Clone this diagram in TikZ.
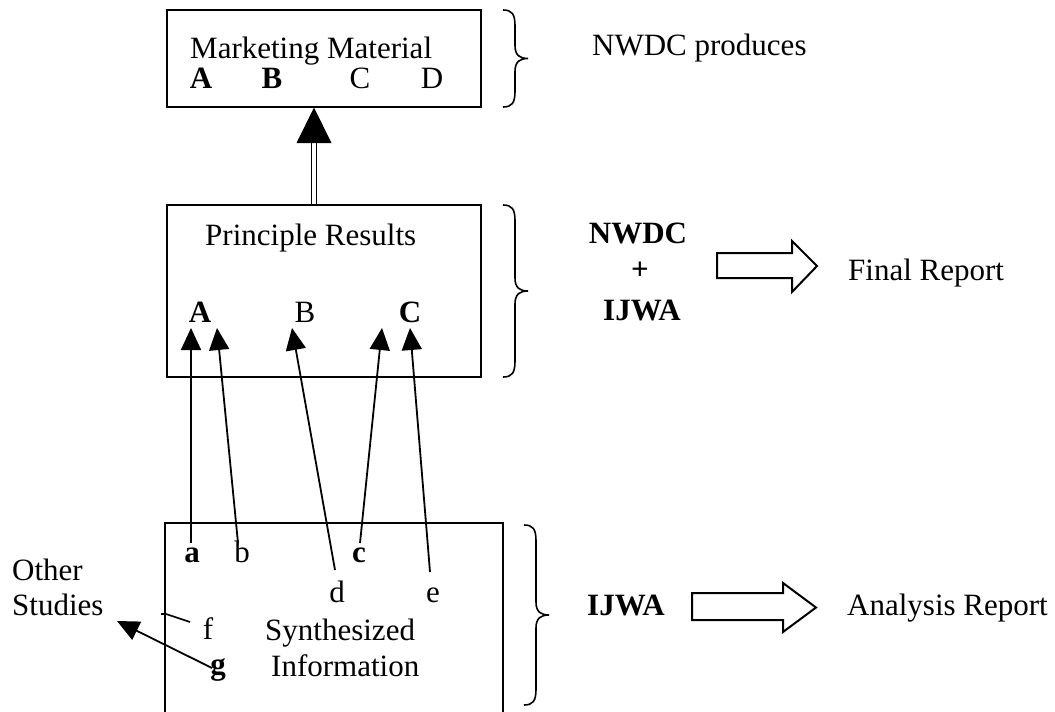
\documentclass[tikz,border=0pt]{standalone}
\usepackage{fontspec}
\setmainfont{Liberation Serif}
\usetikzlibrary{arrows.meta}
\newcommand{\cbrace}[3]{%
 \pgfmathsetmacro\ym{(#2+#3)/2}%
 \draw[bracestyle] (#1,#2) .. controls (#1+9,#2) and (#1+12,#2+4) .. (#1+12,#2+16) -- (#1+12,\ym-13) .. controls (#1+12,\ym-3) and (#1+17,\ym) .. (#1+25,\ym) .. controls (#1+17,\ym) and (#1+12,\ym+3) .. (#1+12,\ym+13) -- (#1+12,#3-16) .. controls (#1+12,#3-4) and (#1+9,#3) .. (#1,#3);}
\begin{document}
\begin{tikzpicture}[x=1pt,y=-1pt,
  txt/.style={font=\fontsize{31}{37}\selectfont, inner sep=0pt, anchor=base},
  txtw/.style={txt, anchor=base west},
  boxline/.style={line width=2.2pt},
  bracestyle/.style={line width=1.6pt},
  conn/.style={line width=1.8pt, -{Triangle[width=20pt,length=22pt]}},
  blockarrow/.style={line width=2pt, line join=miter},
]
\useasboundingbox (0,0) rectangle (1055,712);
% boxes
\node[boxline, draw, minimum width=314pt, minimum height=97pt, inner sep=0pt] (mm) at (324,58.5) {};
\node[boxline, draw, minimum width=314pt, minimum height=172pt, inner sep=0pt] (pr) at (324,291) {};
\draw[boxline] (165,712) -- (165,523) -- (503,523) -- (503,712);
% top box text
\node[txtw] (mmt) at (190,58) {Marketing Material};
\node[txt] (mA) at (201,88) {\textbf{A}};
\node[txt] (mB) at (272,88) {\textbf{B}};
\node[txt] (mC) at (360,88) {C};
\node[txt] (mD) at (432,88) {D};
\cbrace{503}{10}{107}
\node[txtw] (nwdcp) at (592,55) {NWDC produces};
% middle box text
\node[txtw] (prt) at (205,245) {Principle Results};
\node[txt] (pA) at (200,322) {\textbf{A}};
\node[txt] (pB) at (305,322) {B};
\node[txt] (pC) at (410,322) {\textbf{C}};
\cbrace{503}{205}{377}
\node[txt] (nwdc) at (638,243) {\textbf{NWDC}};
\node[txt] (plus) at (640,279) {\textbf{+}};
\node[txt] (ijwa1) at (642,320) {\textbf{IJWA}};
\draw[blockarrow] (717,253) -- (792,253) -- (792,241) -- (817,266) -- (792,292) -- (792,278) -- (717,278) -- cycle;
\node[txtw] (final) at (848,280) {Final Report};
% double arrow
\coordinate (dbot) at (pr.north);
\draw[line width=1.3pt] (311.5,205) -- (311.5,142) (316.5,205) -- (316.5,142);
\fill (296.5,143) -- (331.5,143) -- (314,107.5) -- cycle;
% bottom box text
\node[txt] (la) at (192,562) {\textbf{a}};
\node[txt] (lb) at (242,562) {b};
\node[txt] (lc) at (359,562) {\textbf{c}};
\node[txt] (ld) at (337,602) {d};
\node[txt] (le) at (433,602) {e};
\node[txt] (lf) at (208,639) {f};
\node[txt] (lg) at (218,674) {\textbf{g}};
\node[txtw] (syn) at (265,640) {Synthesized};
\node[txtw] (inf) at (271,676) {Information};
\node[txtw] (oth) at (12,580) {Other};
\node[txtw] (stu) at (12,615) {Studies};
\cbrace{524}{525}{705}
\node[txtw] (ijwa2) at (587,615) {\textbf{IJWA}};
\draw[blockarrow] (692,593) -- (783,593) -- (783,583) -- (816,607.5) -- (783,632) -- (783,620) -- (692,620) -- cycle;
\node[txtw] (ana) at (847,615) {Analysis Report};
% connectors
\coordinate (sa) at (191,543); \coordinate (ta) at (191,328);
\coordinate (sb) at (238,543); \coordinate (tb) at (217,328);
\coordinate (sd) at (335,570); \coordinate (td) at (292,328);
\coordinate (sc) at (360,543); \coordinate (tc) at (382,328);
\coordinate (se) at (430,572); \coordinate (te) at (410,328);
\coordinate (sg) at (212,668); \coordinate (tg) at (117,621);
\draw[conn] (sa) -- (ta);
\draw[conn] (sb) -- (tb);
\draw[conn] (sd) -- (td);
\draw[conn] (sc) -- (tc);
\draw[conn] (se) -- (te);
\draw[conn] (sg) -- (tg);
\draw[line width=1.6pt] (161,614) -- (166,614) -- (190,622);
\end{tikzpicture}
\end{document}
